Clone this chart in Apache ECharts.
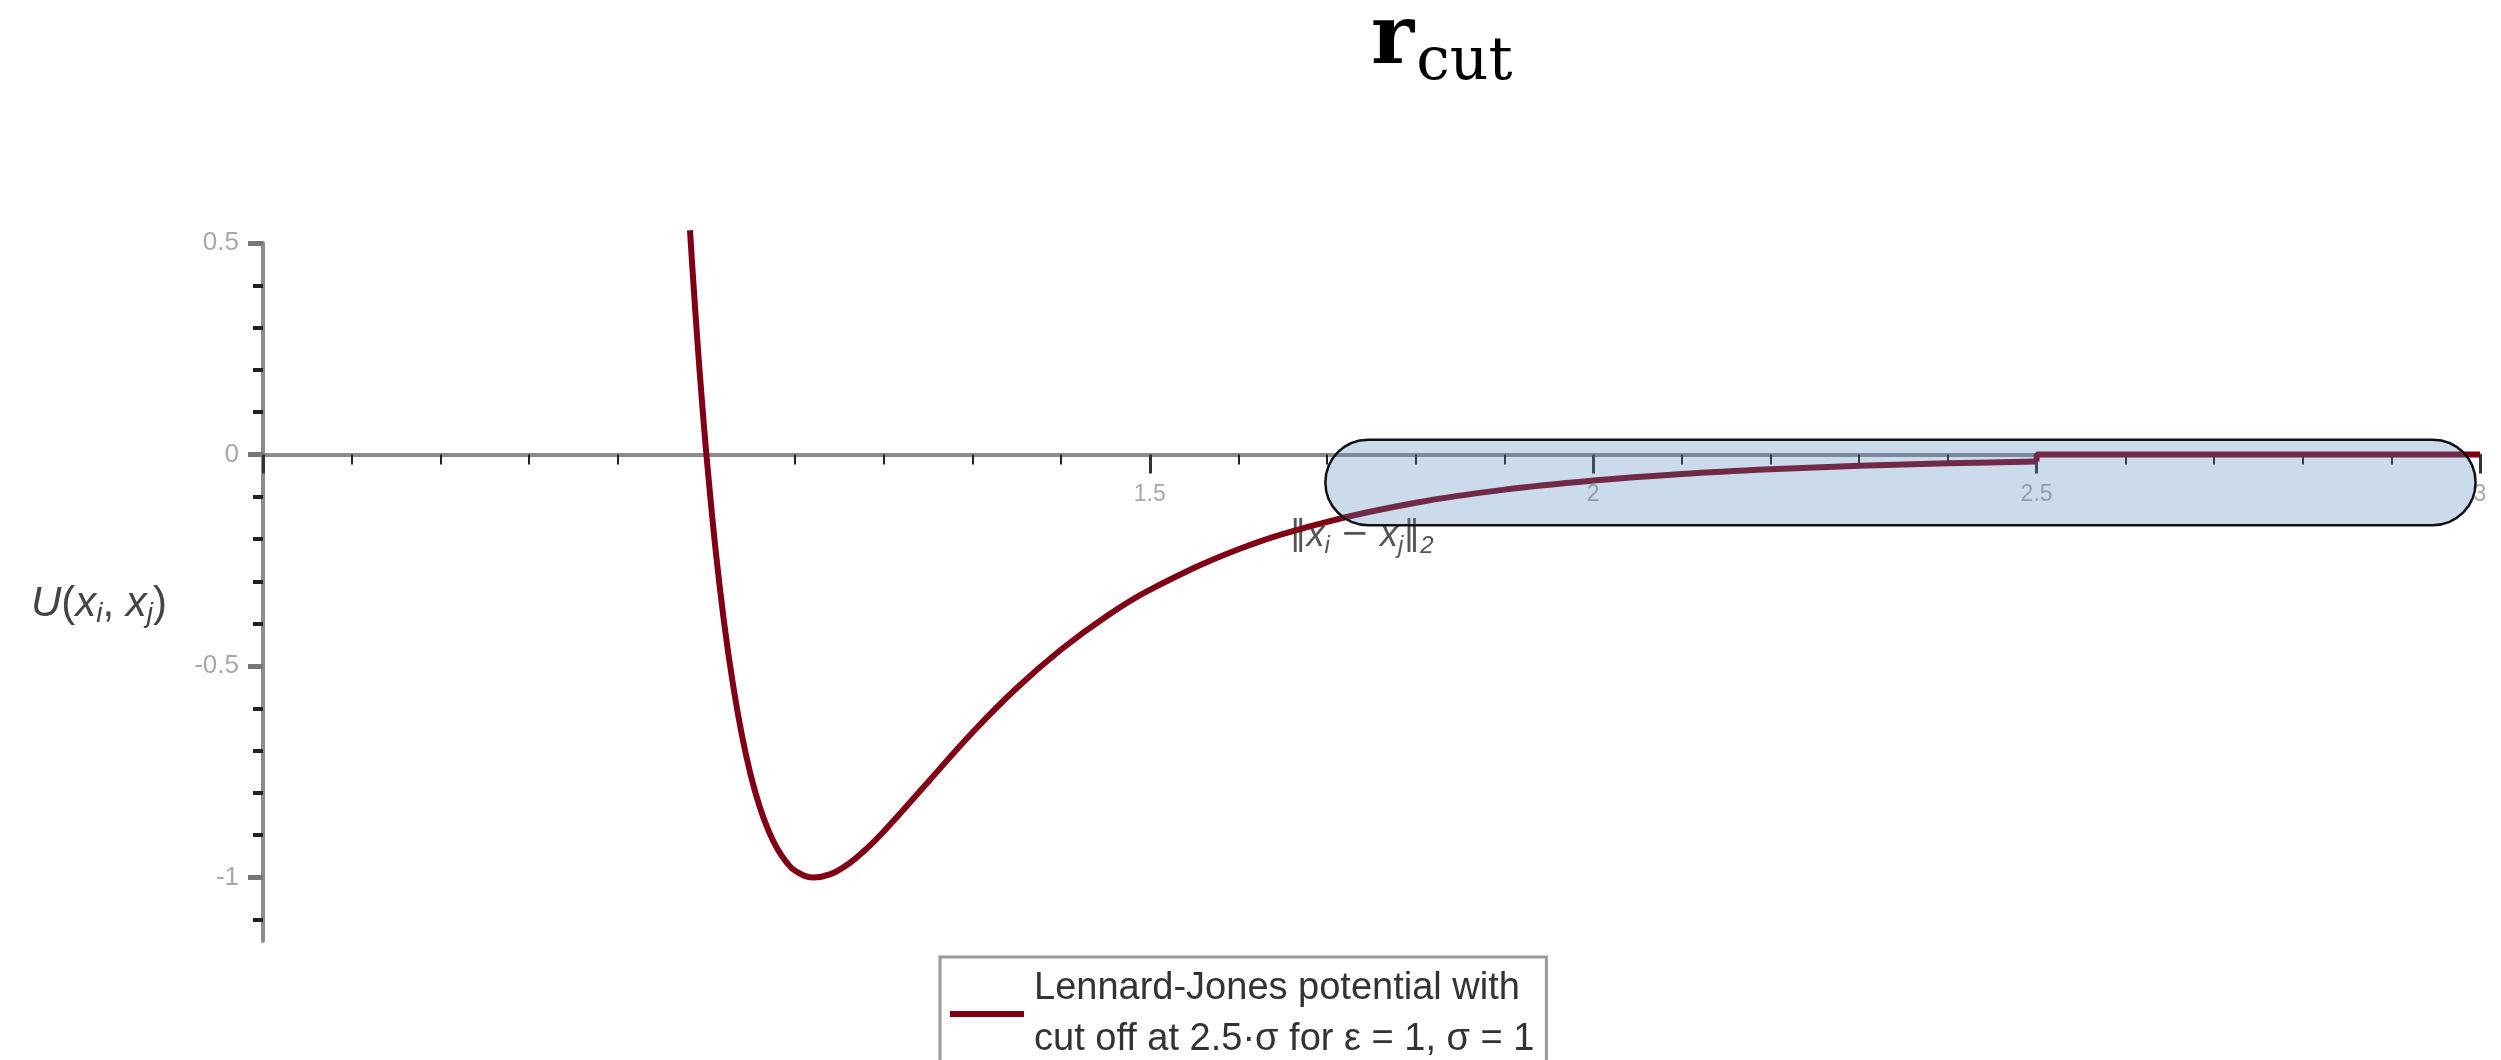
<!DOCTYPE html>
<html>
<head>
<meta charset="utf-8">
<script src="https://cdn.jsdelivr.net/npm/echarts@6/dist/echarts.min.js"></script>
<style>html,body{margin:0;padding:0;background:#fff;}#c{width:2501px;height:1060px;}</style>
</head>
<body>
<div id="c"></div>
<script>
// separation r (in units of sigma) and Lennard-Jones potential U (in units of epsilon)
const rValues = [0.9815, 0.985, 0.99, 0.995, 1.0, 1.01, 1.02, 1.03, 1.04, 1.05, 1.06, 1.07, 1.08, 1.09, 1.10, 1.12, 1.14, 1.16, 1.18, 1.20, 1.25, 1.30, 1.35, 1.40, 1.45, 1.50, 1.60, 1.70, 1.80, 1.90, 2.00, 2.10, 2.20, 2.30, 2.40, 2.50];
const uValues = [0.53, 0.416, 0.264, 0.126, 0, -0.218, -0.398, -0.544, -0.663, -0.758, -0.832, -0.889, -0.932, -0.963, -0.984, -1.0, -0.992, -0.968, -0.933, -0.891, -0.774, -0.657, -0.552, -0.461, -0.384, -0.320, -0.224, -0.159, -0.114, -0.083, -0.0615, -0.0461, -0.0350, -0.0268, -0.0208, -0.0163];
// after the cut-off the potential is zero
const cutR = [2.5, 2.5, 3.0];
const cutU = [-0.0163, 0, 0];
// tick values
const xLabelValues = [1.5, 2, 2.5, 3];
const yMajorTicks = [-1, -0.5, 0, 0.5];
const yMinorTicks = [-1.1, -0.9, -0.8, -0.7, -0.6, -0.4, -0.3, -0.2, -0.1, 0.1, 0.2, 0.3, 0.4];
// highlighted region (r_cut band)
const highlightR = [1.698, 2.995];
const highlightU = [0.035, -0.167];

const seriesName = 'Lennard-Jones potential with\ncut off at 2.5·σ for ε = 1, σ = 1';
const curve = rValues.map((r, i) => [r, uValues[i]]);
const cut = cutR.map((r, i) => [r, cutU[i]]);

const chart = echarts.init(document.getElementById('c'));
const yMin = -1.15, yMax = 0.5;
const labelFont = 'Liberation Sans, sans-serif';
chart.setOption({
  animation: false,
  backgroundColor: '#fff',
  title: {
    text: '{r|r}{c|cut}',
    left: 1366, top: -22,
    textStyle: {
      rich: {
        r: { fontFamily: 'DejaVu Serif', fontSize: 82, color: '#000', fontWeight: 'bold', verticalAlign: 'bottom', lineHeight: 100 },
        c: { fontFamily: 'DejaVu Serif', fontSize: 60, color: '#000', fontWeight: 'normal', verticalAlign: 'bottom', lineHeight: 100, padding: [0, 0, -10, 2] }
      }
    }
  },
  grid: { left: 263, right: 21, top: 243, bottom: 119, containLabel: false },
  legend: {
    data: [seriesName],
    left: 940, top: 957,
    orient: 'vertical',
    padding: [6, 12, 45, 10],
    borderColor: '#9a9a9a', borderWidth: 3,
    backgroundColor: '#fff',
    icon: 'rect', itemWidth: 74, itemHeight: 6,
    textStyle: { fontFamily: labelFont, fontSize: 38, lineHeight: 51, color: '#333', padding: [0, 0, 0, 5] }
  },
  xAxis: {
    type: 'value', min: 0.5, max: 3, interval: 0.5,
    name: '{b|‖}{i|x}{s|i}{b| − }{i|x}{s|j}{b|‖}{s|2}',
    nameLocation: 'middle', nameGap: 58,
    nameTextStyle: {
      padding: [0, 20, 0, 0],
      rich: {
        b: { fontFamily: 'DejaVu Sans', fontSize: 34, color: '#555' },
        i: { fontFamily: 'Liberation Sans', fontStyle: 'italic', fontSize: 36, color: '#555' },
        s: { fontFamily: 'Liberation Sans', fontStyle: 'italic', fontSize: 24, color: '#555', padding: [22, 0, 0, 0] }
      }
    },
    axisLine: { onZero: false, lineStyle: { color: '#8c8c8c', width: 4 } },
    axisTick: { show: true, length: 19, lineStyle: { color: '#333', width: 3 } },
    minorTick: { show: true, splitNumber: 5, length: 10, lineStyle: { color: '#222', width: 2 } },
    splitLine: { show: false },
    axisLabel: {
      margin: 29, fontSize: 23, color: '#a8a8a8', fontFamily: labelFont,
      formatter: v => (xLabelValues.some(t => Math.abs(t - v) < 1e-9) ? String(v) : '')
    }
  },
  yAxis: [{
    type: 'value', min: yMin, max: yMax,
    name: '{i|U}{n|(}{i|x}{s|i}{n|, }{i|x}{s|j}{n|)}',
    nameLocation: 'middle', nameRotate: 0, nameGap: 96,
    nameTextStyle: {
      padding: [24, 0, 0, 0],
      rich: {
        i: { fontFamily: 'Liberation Sans', fontStyle: 'italic', fontSize: 42, color: '#444' },
        n: { fontFamily: 'Liberation Sans', fontSize: 42, color: '#444' },
        s: { fontFamily: 'Liberation Sans', fontStyle: 'italic', fontSize: 28, color: '#444', padding: [20, 0, 0, 0] }
      }
    },
    axisLine: { show: true, lineStyle: { color: '#8c8c8c', width: 4 } },
    axisTick: { show: true, length: 15, customValues: yMajorTicks, lineStyle: { color: '#777', width: 5 } },
    splitLine: { show: false },
    axisLabel: { margin: 24, fontSize: 26, color: '#a8a8a8', customValues: yMajorTicks, fontFamily: labelFont }
  }, {
    type: 'value', min: yMin, max: yMax, position: 'left', offset: 0,
    axisLine: { show: false },
    axisTick: { show: true, length: 10, customValues: yMinorTicks, lineStyle: { color: '#222', width: 4 } },
    axisLabel: { show: false },
    splitLine: { show: false }
  }],
  series: [{
    name: seriesName, type: 'line', data: curve, xAxisIndex: 0, yAxisIndex: 0,
    smooth: 0.4, showSymbol: false, clip: false,
    lineStyle: { color: '#7f0015', width: 6 }, itemStyle: { color: '#7f0015' }, z: 5
  }, {
    name: 'cut', type: 'line', data: cut, xAxisIndex: 0, yAxisIndex: 0,
    smooth: false, showSymbol: false, clip: false,
    lineStyle: { color: '#7f0015', width: 6 }, itemStyle: { color: '#7f0015' }, z: 5
  }]
});

// move the horizontal axis onto U = 0 using the library's own y scale
const yZeroPx = chart.convertToPixel({ yAxisIndex: 0 }, 0);
const yBottomPx = chart.convertToPixel({ yAxisIndex: 0 }, yMin);
chart.setOption({ xAxis: { offset: -(yBottomPx - yZeroPx) } });

const p1 = chart.convertToPixel({ gridIndex: 0 }, [highlightR[0], highlightU[0]]);
const p2 = chart.convertToPixel({ gridIndex: 0 }, [highlightR[1], highlightU[1]]);
const h = p2[1] - p1[1];
chart.setOption({
  graphic: [{
    type: 'rect', z: 100,
    shape: { x: p1[0], y: p1[1], width: p2[0] - p1[0], height: h, r: h / 2 },
    style: { fill: 'rgba(82,135,192,0.3)', stroke: '#111', lineWidth: 2.5 }
  }]
});
</script>
</body>
</html>
